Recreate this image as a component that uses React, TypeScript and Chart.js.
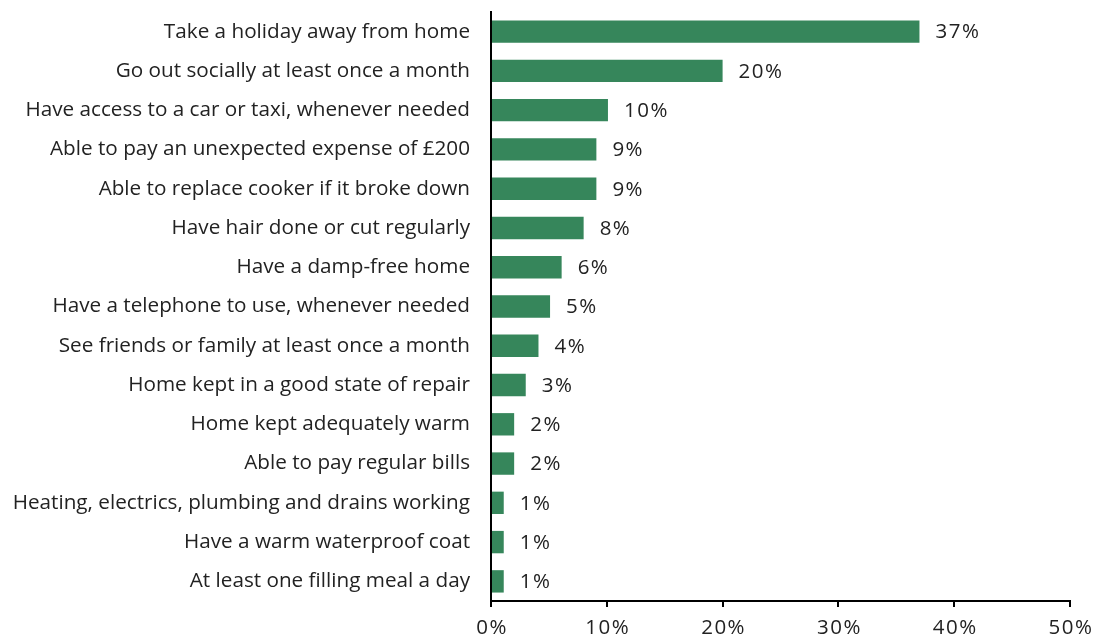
import React, { useEffect, useRef } from "react";
import { Chart, registerables } from "chart.js";

Chart.register(...registerables);

const categories = [
  "Take a holiday away from home",
  "Go out socially at least once a month",
  "Have access to a car or taxi, whenever needed",
  "Able to pay an unexpected expense of £200",
  "Able to replace cooker if it broke down",
  "Have hair done or cut regularly",
  "Have a damp-free home",
  "Have a telephone to use, whenever needed",
  "See friends or family at least once a month",
  "Home kept in a good state of repair",
  "Home kept adequately warm",
  "Able to pay regular bills",
  "Heating, electrics, plumbing and drains working",
  "Have a warm waterproof coat",
  "At least one filling meal a day",
];

const values = [37, 20, 10.1, 9.1, 9.1, 8, 6.1, 5.1, 4.1, 3, 2, 2, 1.1, 1.1, 1.1];
const valueLabels = ["37%", "20%", "10%", "9%", "9%", "8%", "6%", "5%", "4%", "3%", "2%", "2%", "1%", "1%", "1%"];
const xTicks = [0, 10, 20, 30, 40, 50];

const FONT = "'Open Sans', 'DejaVu Sans', sans-serif";
const TEXT = "#222222";
const BAR = "#36865B";

const labelPlugin = {
  id: "customLabels",
  afterDraw(chart: any) {
    const ctx = chart.ctx;
    const meta = chart.getDatasetMeta(0);
    const xs = chart.scales.x;
    ctx.save();
    ctx.font = `20.5px ${FONT}`;
    (ctx as any).letterSpacing = "1.5px";
    ctx.fillStyle = TEXT;
    ctx.textAlign = "left";
    ctx.textBaseline = "middle";
    meta.data.forEach((el: any, i: number) => {
      ctx.fillText(valueLabels[i], el.x + 16, el.y + 1);
    });
    ctx.textAlign = "center";
    xTicks.forEach((t) => {
      ctx.fillText(`${t}%`, xs.getPixelForValue(t) + 1, chart.chartArea.bottom + 27);
    });
    ctx.restore();
  },
};

export default function App() {
  const ref = useRef<HTMLCanvasElement | null>(null);
  useEffect(() => {
    if (!ref.current) return;
    const chart = new Chart(ref.current, {
      type: "bar",
      data: {
        labels: categories,
        datasets: [
          {
            data: values,
            backgroundColor: BAR,
            barPercentage: 0.57,
            categoryPercentage: 1,
          },
        ],
      },
      options: {
        indexAxis: "y",
        animation: false,
        responsive: true,
        maintainAspectRatio: false,
        layout: { padding: { top: 12, right: 26, left: 0, bottom: 0 } },
        plugins: {
          legend: { display: false },
          tooltip: { enabled: false },
        },
        scales: {
          x: {
            min: 0,
            max: 50,
            afterFit(scale: any) {
              scale.height = 36;
              scale.paddingLeft = 0;
              scale.paddingRight = 0;
            },
            border: { display: true, color: "#000", width: 2 },
            grid: {
              display: true,
              drawOnChartArea: false,
              drawTicks: true,
              tickLength: 6,
              color: "#000",
              lineWidth: 2,
            },
            ticks: {
              stepSize: 10,
              display: false,
            },
          },
          y: {
            afterFit(scale: any) {
              scale.width = 491;
              scale.paddingTop = 0;
              scale.paddingBottom = 0;
            },
            border: { display: true, color: "#000", width: 2 },
            grid: { display: false, drawTicks: false },
            ticks: {
              padding: 21,
              color: TEXT,
              font: { family: FONT, size: 20.7 },
              autoSkip: false,
            },
          },
        },
      },
      plugins: [labelPlugin],
    });
    return () => chart.destroy();
  }, []);
  return (
    <div style={{ position: "absolute", left: 0, top: 0, width: 1096, height: 637, background: "#fff" }}>
      <canvas ref={ref} />
    </div>
  );
}
